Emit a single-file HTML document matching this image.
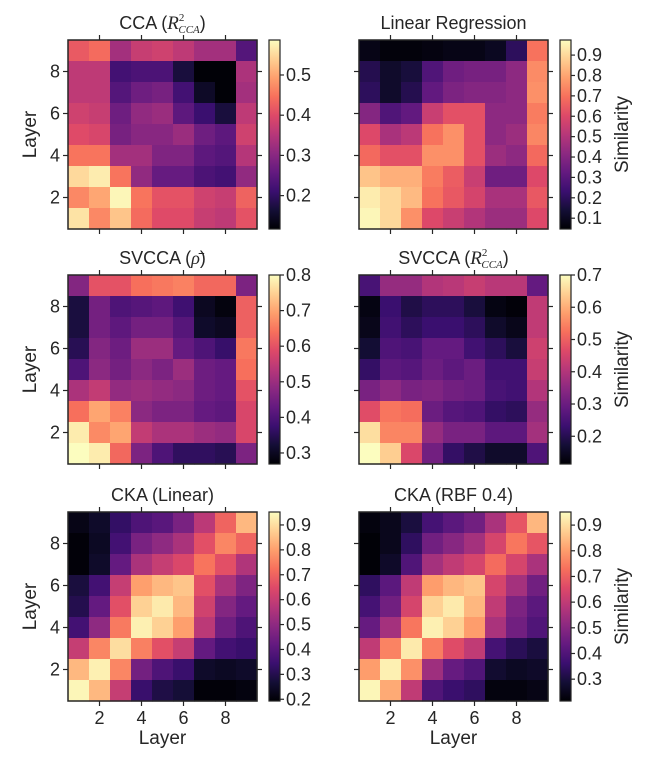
<!DOCTYPE html>
<html><head><meta charset="utf-8"><style>
body{margin:0;background:#fff;}
svg{display:block;font-family:"Liberation Sans",sans-serif;}
</style></head><body>
<svg id="fig" width="648" height="758" viewBox="0 0 648 758" xmlns="http://www.w3.org/2000/svg"></svg>
<script>
// Layers (rows listed from layer 9 at top down to layer 1)
const layers=[1,2,3,4,5,6,7,8,9];
const ccaValues=[
[0.42,0.44,0.33,0.37,0.38,0.36,0.33,0.33,0.24],
[0.36,0.36,0.22,0.23,0.23,0.17,0.12,0.12,0.34],
[0.36,0.36,0.24,0.27,0.28,0.22,0.15,0.12,0.33],
[0.38,0.37,0.27,0.31,0.32,0.25,0.21,0.17,0.36],
[0.40,0.39,0.28,0.30,0.30,0.32,0.27,0.25,0.38],
[0.45,0.45,0.33,0.33,0.29,0.29,0.25,0.24,0.35],
[0.55,0.57,0.45,0.31,0.26,0.26,0.23,0.22,0.31],
[0.47,0.50,0.58,0.45,0.41,0.41,0.38,0.37,0.43],
[0.56,0.47,0.53,0.44,0.40,0.40,0.37,0.36,0.41]];
const linRegValues=[
[0.08,0.06,0.06,0.07,0.08,0.08,0.10,0.20,0.70],
[0.18,0.12,0.15,0.28,0.35,0.37,0.37,0.42,0.75],
[0.20,0.12,0.18,0.32,0.38,0.40,0.40,0.42,0.76],
[0.40,0.28,0.32,0.55,0.62,0.62,0.42,0.42,0.72],
[0.60,0.48,0.52,0.70,0.76,0.62,0.42,0.45,0.74],
[0.68,0.62,0.62,0.76,0.76,0.62,0.45,0.42,0.68],
[0.86,0.82,0.82,0.72,0.65,0.55,0.35,0.35,0.60],
[0.94,0.90,0.84,0.70,0.64,0.58,0.48,0.48,0.64],
[0.96,0.90,0.76,0.60,0.55,0.50,0.45,0.45,0.60]];
const svccaRhoValues=[
[0.47,0.60,0.60,0.64,0.65,0.66,0.63,0.63,0.46],
[0.33,0.45,0.40,0.41,0.42,0.38,0.30,0.28,0.62],
[0.33,0.45,0.42,0.45,0.45,0.41,0.31,0.30,0.62],
[0.35,0.47,0.44,0.50,0.50,0.43,0.40,0.37,0.65],
[0.40,0.48,0.45,0.48,0.46,0.50,0.44,0.43,0.64],
[0.52,0.55,0.49,0.50,0.49,0.48,0.44,0.43,0.60],
[0.64,0.70,0.66,0.48,0.46,0.46,0.43,0.42,0.58],
[0.78,0.67,0.70,0.55,0.52,0.52,0.50,0.49,0.58],
[0.80,0.78,0.63,0.46,0.40,0.36,0.36,0.35,0.46]];
const svccaR2Values=[
[0.25,0.36,0.36,0.40,0.41,0.43,0.41,0.41,0.29],
[0.13,0.23,0.19,0.21,0.21,0.18,0.13,0.12,0.42],
[0.14,0.24,0.21,0.23,0.23,0.21,0.16,0.14,0.42],
[0.17,0.26,0.25,0.29,0.29,0.24,0.21,0.18,0.44],
[0.22,0.28,0.27,0.30,0.28,0.30,0.24,0.24,0.43],
[0.32,0.35,0.32,0.33,0.31,0.30,0.25,0.24,0.40],
[0.47,0.53,0.52,0.30,0.27,0.26,0.22,0.21,0.36],
[0.66,0.55,0.55,0.36,0.32,0.32,0.28,0.28,0.38],
[0.70,0.64,0.46,0.31,0.22,0.19,0.16,0.16,0.26]];
const ckaLinValues=[
[0.22,0.25,0.33,0.38,0.40,0.46,0.58,0.70,0.84],
[0.20,0.24,0.36,0.46,0.50,0.55,0.66,0.76,0.70],
[0.20,0.25,0.42,0.55,0.60,0.64,0.73,0.66,0.56],
[0.28,0.36,0.60,0.80,0.84,0.86,0.66,0.55,0.47],
[0.30,0.42,0.66,0.88,0.92,0.84,0.62,0.48,0.42],
[0.36,0.50,0.74,0.93,0.88,0.80,0.58,0.44,0.38],
[0.60,0.76,0.90,0.75,0.66,0.60,0.42,0.36,0.34],
[0.84,0.93,0.76,0.45,0.38,0.34,0.25,0.24,0.25],
[0.94,0.84,0.60,0.34,0.29,0.27,0.20,0.20,0.21]];
const ckaRbfValues=[
[0.23,0.25,0.30,0.38,0.42,0.46,0.56,0.68,0.84],
[0.22,0.25,0.34,0.46,0.50,0.55,0.64,0.74,0.68],
[0.22,0.27,0.40,0.55,0.60,0.64,0.72,0.64,0.56],
[0.34,0.42,0.60,0.80,0.84,0.86,0.64,0.55,0.46],
[0.38,0.46,0.64,0.88,0.92,0.84,0.60,0.48,0.42],
[0.44,0.55,0.74,0.93,0.88,0.80,0.56,0.46,0.40],
[0.60,0.76,0.92,0.75,0.66,0.60,0.38,0.33,0.30],
[0.80,0.93,0.78,0.54,0.44,0.40,0.28,0.26,0.27],
[0.94,0.82,0.60,0.40,0.36,0.34,0.23,0.23,0.24]];
const axisTicks=[2,4,6,8];
const cbTicks1=[0.2,0.3,0.4,0.5];
const cbTicks2=[0.1,0.2,0.3,0.4,0.5,0.6,0.7,0.8,0.9];
const cbTicks3=[0.3,0.4,0.5,0.6,0.7,0.8];
const cbTicks4=[0.2,0.3,0.4,0.5,0.6,0.7];
const cbTicks5=[0.2,0.3,0.4,0.5,0.6,0.7,0.8,0.9];
const cbTicks6=[0.3,0.4,0.5,0.6,0.7,0.8,0.9];

const magma=[[0,0,4],[20,14,54],[59,15,112],[100,26,128],[140,41,129],[183,55,121],[222,73,104],[247,112,92],[254,159,109],[254,207,146],[252,253,191]];
function cmap(t){t=Math.max(0,Math.min(1,t));const p=t*10,i=Math.min(9,Math.floor(p)),f=p-i;const a=magma[i],b=magma[i+1];
return 'rgb('+a.map((v,k)=>Math.round(v+(b[k]-v)*f)).join(',')+')';}
const NS='http://www.w3.org/2000/svg';const svg=document.getElementById('fig');
function el(tag,attrs,parent){const e=document.createElementNS(NS,tag);for(const k in attrs)e.setAttribute(k,attrs[k]);(parent||svg).appendChild(e);return e;}
const defs=el('defs',{});const lg=el('linearGradient',{id:'mg',x1:0,y1:1,x2:0,y2:0},defs);
magma.forEach((c,i)=>el('stop',{offset:(i/10),'stop-color':'rgb('+c.join(',')+')'},lg));

const TXT='#262626';
const panels=[
 {x:68,y:40,vals:ccaValues,vmin:0.117,vmax:0.587,ticks:cbTicks1,title:'cca',left:true,bottom:false,right:false,name:'cca'},
 {x:359,y:40,vals:linRegValues,vmin:0.047,vmax:0.974,ticks:cbTicks2,title:'Linear Regression',left:false,bottom:false,right:true,name:'linear-regression'},
 {x:68,y:275,vals:svccaRhoValues,vmin:0.269,vmax:0.80,ticks:cbTicks3,title:'rho',left:true,bottom:false,right:false,name:'svcca-rho'},
 {x:359,y:275,vals:svccaR2Values,vmin:0.114,vmax:0.70,ticks:cbTicks4,title:'svr2',left:false,bottom:false,right:true,name:'svcca-r2'},
 {x:68,y:512,vals:ckaLinValues,vmin:0.193,vmax:0.952,ticks:cbTicks5,title:'CKA (Linear)',left:true,bottom:true,right:false,name:'cka-linear'},
 {x:359,y:512,vals:ckaRbfValues,vmin:0.215,vmax:0.951,ticks:cbTicks6,title:'CKA (RBF 0.4)',left:false,bottom:true,right:true,name:'cka-rbf'}];
const S=189, N=layers.length, C=S/N;
panels.forEach(p=>{
 const g=el('g',{});
 
 
 const xs=l=>p.x+(l-0.5)*C; const ys=l=>p.y+S-(l-0.5)*C;
 p.vals.forEach((row,ri)=>{const ly=layers[N-1-ri];row.forEach((v,ci)=>{const lx=layers[ci];
  const r=el('rect',{x:(xs(lx)-C/2).toFixed(2),y:(ys(ly)-C/2).toFixed(2),width:(C+0.6).toFixed(2),height:(C+0.6).toFixed(2),fill:cmap((v-p.vmin)/(p.vmax-p.vmin))},g);
  
  });});
 el('rect',{x:p.x,y:p.y,width:S,height:S,fill:'none',stroke:TXT,'stroke-width':1.5},g);
 axisTicks.forEach(t=>{const X=xs(t),Y=ys(t);
  el('line',{x1:X,x2:X,y1:p.y,y2:p.y-5,stroke:TXT,'stroke-width':1.2},g);
  el('line',{x1:X,x2:X,y1:p.y+S,y2:p.y+S+5,stroke:TXT,'stroke-width':1.2},g);
  el('line',{x1:p.x,x2:p.x-5,y1:Y,y2:Y,stroke:TXT,'stroke-width':1.2},g);
  el('line',{x1:p.x+S,x2:p.x+S+5,y1:Y,y2:Y,stroke:TXT,'stroke-width':1.2},g);
  if(p.left){const t1=el('text',{x:p.x-8,y:Y+6,'text-anchor':'end','font-size':18,fill:TXT},g);t1.textContent=t;
   }
  if(p.bottom){const t2=el('text',{x:X,y:p.y+S+23,'text-anchor':'middle','font-size':18,fill:TXT},g);t2.textContent=t;
   }
 });
 if(p.left){const yl=el('text',{x:0,y:0,transform:'translate(36,'+(p.y+S/2)+') rotate(-90)','text-anchor':'middle','font-size':19,fill:TXT},g);yl.textContent='Layer';
  }
 if(p.bottom){const xl=el('text',{x:p.x+S/2,y:p.y+S+43,'text-anchor':'middle','font-size':19,fill:TXT},g);xl.textContent='Layer';
  }
 const tt=el('text',{x:p.x+S/2,y:p.y-11,'text-anchor':'middle','font-size':18,fill:TXT},g);
 
 const R2='<tspan font-family="Liberation Serif" font-style="italic" font-size="19">R</tspan><tspan font-family="Liberation Serif" font-size="11" dy="-8">2</tspan><tspan font-family="Liberation Serif" font-style="italic" font-size="11" dx="-6" dy="12">CCA</tspan><tspan dy="-4">)</tspan>';
 if(p.title==='cca')tt.innerHTML='CCA ('+R2;
 else if(p.title==='svr2')tt.innerHTML='SVCCA ('+R2;
 else if(p.title==='rho')tt.innerHTML='SVCCA (<tspan font-family="Liberation Serif" font-style="italic">ρ̄</tspan>)';
 else tt.textContent=p.title;
 const cx=p.x+S+12,cw=11;
 const cb=el('rect',{x:cx,y:p.y,width:cw,height:S,fill:'url(#mg)',stroke:TXT,'stroke-width':1.2},g);
 
 p.ticks.forEach(t=>{const Y=p.y+S-(t-p.vmin)/(p.vmax-p.vmin)*S;
  el('line',{x1:cx+cw,x2:cx+cw+4,y1:Y,y2:Y,stroke:TXT,'stroke-width':1.2},g);
  const ct=el('text',{x:cx+cw+6,y:Y+6,'font-size':18,fill:TXT},g);ct.textContent=t.toFixed(1);
  });
 if(p.right){const sl=el('text',{x:0,y:0,transform:'translate(628,'+(p.y+S/2)+') rotate(-90)','text-anchor':'middle','font-size':19,fill:TXT},g);sl.textContent='Similarity';
  }
});
</script>
</body></html>
